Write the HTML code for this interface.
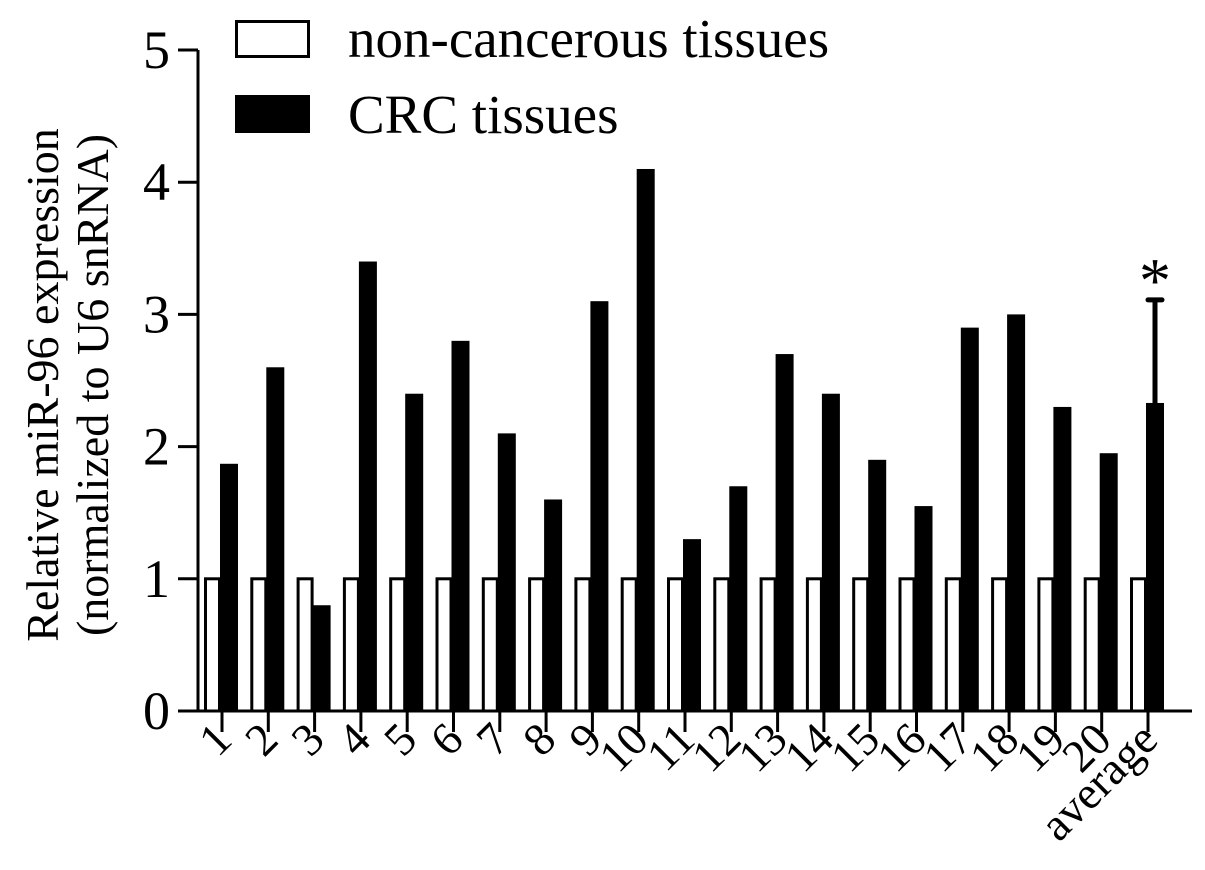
<!DOCTYPE html>
<html><head><meta charset="utf-8"><style>
body{margin:0;background:#fff}
svg{display:block;font-family:"Liberation Serif",serif}
</style></head><body>
<svg id="chart" width="1205" height="870" viewBox="0 0 1205 870">
<g id="legend">
<g>
<rect x="236.5" y="21.5" width="72" height="35" fill="#fff" stroke="#000" stroke-width="3"/>
<text x="348" y="57" font-size="55">non-cancerous tissues</text></g>
<g>
<rect x="235" y="95" width="75" height="38" fill="#000"/>
<text x="348" y="133" font-size="55">CRC tissues</text></g>
</g>
<text transform="translate(58,385) rotate(-90)" text-anchor="middle" font-size="46">Relative miR-96 expression</text>
<text transform="translate(108,385) rotate(-90)" text-anchor="middle" font-size="46">(normalized to U6 snRNA)</text>
<g id="bars"></g><g id="axes"></g>
</svg>
<script>
const categories=["1","2","3","4","5","6","7","8","9","10","11","12","13","14","15","16","17","18","19","20","average"];
const normalValues=[1,1,1,1,1,1,1,1,1,1,1,1,1,1,1,1,1,1,1,1,1];
const crcValues=[1.87,2.6,0.8,3.4,2.4,2.8,2.1,1.6,3.1,4.1,1.3,1.7,2.7,2.4,1.9,1.55,2.9,3.0,2.3,1.95,2.33];
const avgError=0.78;
const yTicks=[0,1,2,3,4,5];
const NS="http://www.w3.org/2000/svg";
const y0=711,yTop=50,yMax=5;
function yScale(v){return y0-(v/yMax)*(y0-yTop);}
function xTick(i){return 222+i*(1148-222)/(categories.length-1);}
function mk(tag,attrs,parent){const e=document.createElementNS(NS,tag);for(const k in attrs)e.setAttribute(k,attrs[k]);parent.appendChild(e);return e;}
const bars=document.getElementById('bars'),axes=document.getElementById('axes');
categories.forEach((c,i)=>{
  const t=xTick(i);
  const w=mk('rect',{x:t-16.5,y:yScale(normalValues[i]),width:14,height:y0-yScale(normalValues[i]),fill:'#fff',stroke:'#000','stroke-width':3},bars);
  
  
  const b=mk('rect',{x:t-2,y:yScale(crcValues[i]),width:18,height:y0-yScale(crcValues[i]),fill:'#000'},bars);
  
  
  const tk=mk('line',{x1:t,x2:t,y1:y0,y2:732,stroke:'#000','stroke-width':3},axes);
  
  
  const lb=mk('text',{transform:`translate(${t+12},742) rotate(-45)`,'text-anchor':'end','font-size':46},axes);
  lb.textContent=c;
  
  
});
const li=categories.length-1, tA=xTick(li)+7;
const eb=mk('line',{x1:tA,x2:tA,y1:yScale(crcValues[li]),y2:yScale(crcValues[li]+avgError),stroke:'#000','stroke-width':5},bars);


const cap=mk('line',{x1:tA-7,x2:tA+7,y1:yScale(crcValues[li]+avgError),y2:yScale(crcValues[li]+avgError),stroke:'#000','stroke-width':5,'stroke-linecap':'round'},bars);


const st=mk('text',{x:tA,y:yScale(crcValues[li]+avgError)+2,'text-anchor':'middle','font-size':64},bars);
st.textContent='*';


const ya=mk('line',{x1:198,x2:198,y1:yTop,y2:y0+1.5,stroke:'#000','stroke-width':3},axes);


const xa=mk('line',{x1:196.5,x2:1192,y1:y0,y2:y0,stroke:'#000','stroke-width':3},axes);


yTicks.forEach(v=>{
  const y=yScale(v);
  const l=mk('line',{x1:178,x2:198,y1:y,y2:y,stroke:'#000','stroke-width':3},axes);
  
  
  const tx=mk('text',{x:170,y:y+18,'text-anchor':'end','font-size':54},axes);
  tx.textContent=v;
  
  
});
</script>
</body></html>
